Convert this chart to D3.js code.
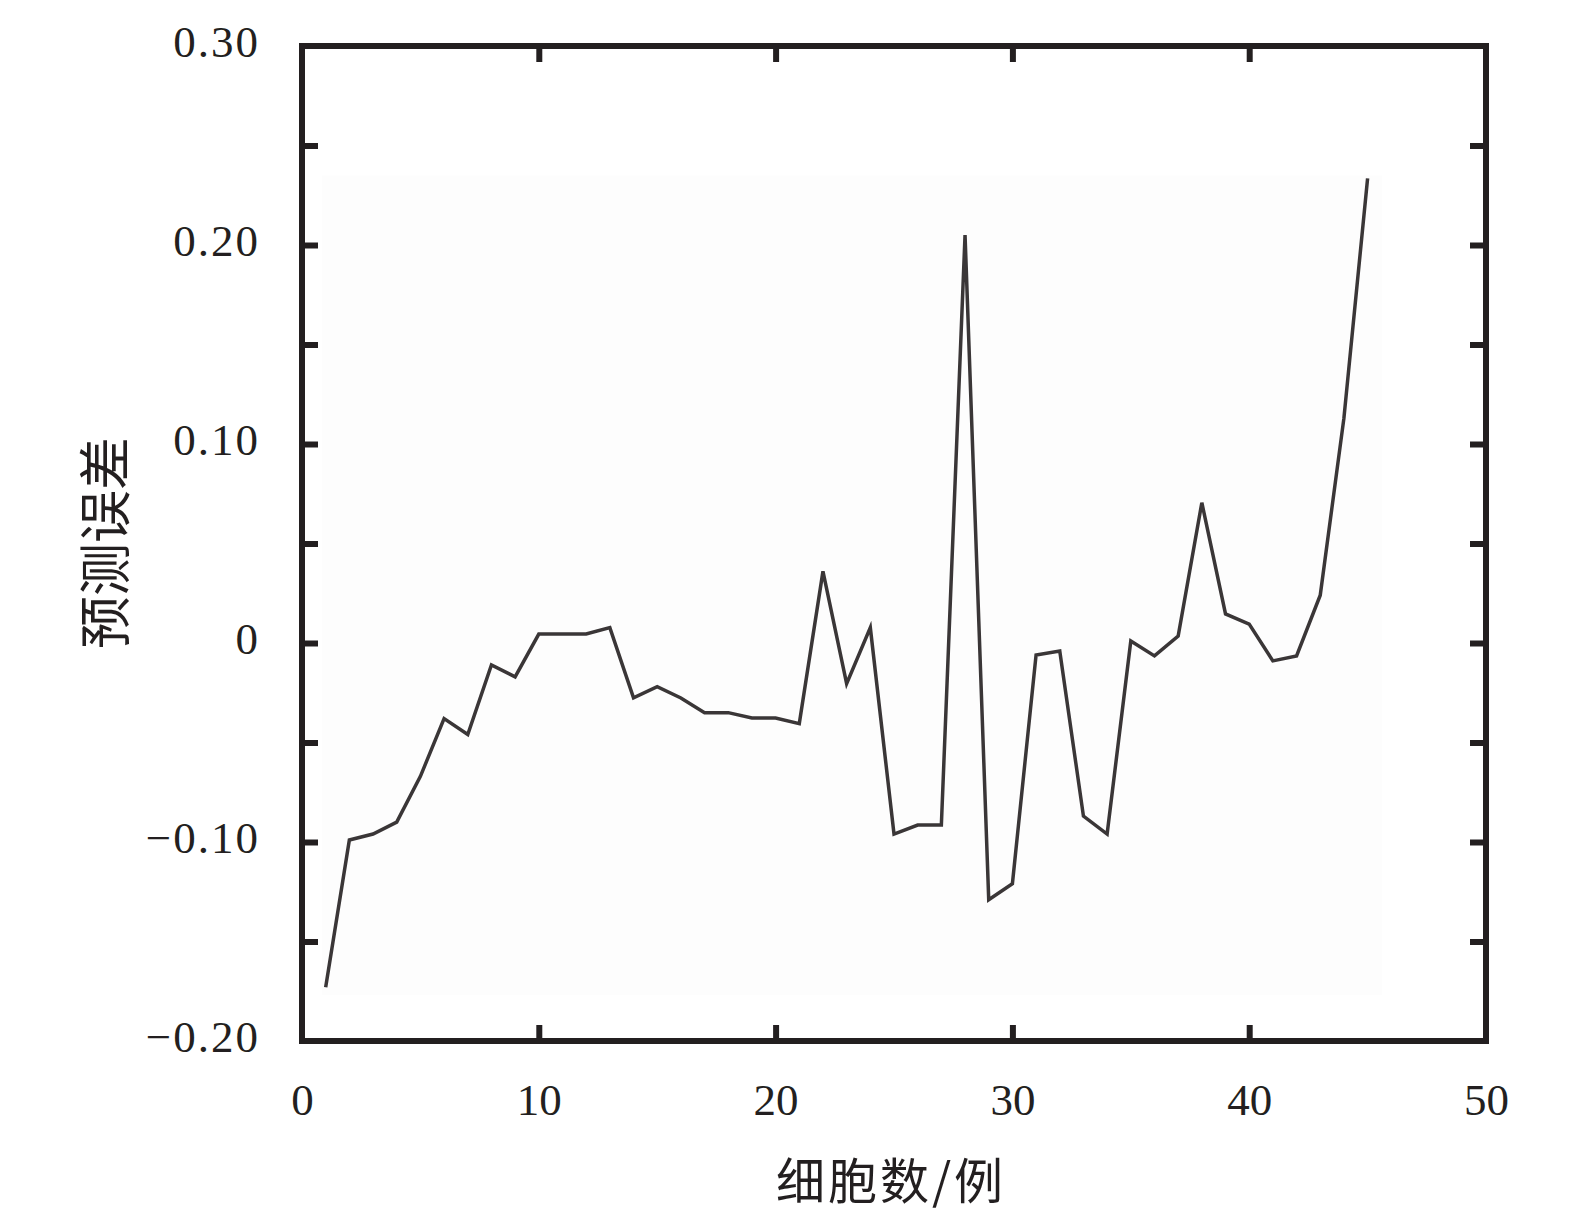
<!DOCTYPE html>
<html>
<head>
<meta charset="utf-8">
<script src="https://cdn.jsdelivr.net/npm/d3@7"></script>
<style>
  html, body { margin: 0; padding: 0; background: #ffffff; }
  svg { display: block; }
</style>
</head>
<body>
<svg id="chart" width="1589" height="1226"></svg>
<script>
// ---- data ----
const cells = [1,2,3,4,5,6,7,8,9,10,11,12,13,14,15,16,17,18,19,20,21,22,23,24,25,26,27,28,29,30,31,32,33,34,35,36,37,38,39,40,41,42,43,44,45];
const errors = [-0.173,-0.099,-0.096,-0.090,-0.067,-0.038,-0.046,-0.011,-0.017,0.0045,
                0.0045,0.0045,0.0077,-0.0276,-0.022,-0.0276,-0.035,-0.035,-0.0377,-0.0377,
                -0.0405,0.036,-0.0204,0.0077,-0.096,-0.0915,-0.0915,0.205,-0.129,-0.121,
                -0.006,-0.004,-0.087,-0.096,0.001,-0.0065,0.0035,0.0705,0.0146,0.0095,
                -0.009,-0.0065,0.024,0.113,0.2335];
const xTickValues = [0,10,20,30,40,50];
const xTickLabels = ["0","10","20","30","40","50"];
const yTickValues = [-0.20,-0.10,0,0.10,0.20,0.30];
const yTickLabels = ["−0.20","−0.10","0","0.10","0.20","0.30"];
const yMinorTicks = [-0.15,-0.10,-0.05,0,0.05,0.10,0.15,0.20,0.25];
const xInnerTicks = [10,20,30,40];
const xTitle = "细胞数/例";
const yTitle = "预测误差";

// ---- layout ----
const L = 302, R = 1486, T = 46, B = 1041;
const frameColor = "#231f20";
const lineColor = "#3a3637";
const tickLen = 16;
const numFont = "'Liberation Serif', 'Times New Roman', serif";
const cjkFont = "'Noto Sans CJK SC', sans-serif";

const svg = d3.select("#chart");
const x = d3.scaleLinear().domain([0, 50]).range([L, R]);
const y = d3.scaleLinear().domain([-0.2, 0.3]).range([B, T]);

// faint plot background panel
svg.append("rect")
  .attr("x", x(0.85)).attr("y", y(0.235))
  .attr("width", x(45.6) - x(0.85)).attr("height", y(-0.177) - y(0.235))
  .attr("fill", "#fdfdfd");

// inner ticks via axes
function styleTicks(g) {
  g.select(".domain").remove();
  g.selectAll(".tick line").attr("stroke", frameColor).attr("stroke-width", 6);
  g.selectAll(".tick text").remove();
}
svg.append("g").attr("transform", `translate(0,${B})`)
  .call(d3.axisBottom(x).tickValues(xInnerTicks).tickSize(-tickLen)).call(styleTicks);
svg.append("g").attr("transform", `translate(0,${T})`)
  .call(d3.axisTop(x).tickValues(xInnerTicks).tickSize(-tickLen)).call(styleTicks);
svg.append("g").attr("transform", `translate(${L},0)`)
  .call(d3.axisLeft(y).tickValues(yMinorTicks).tickSize(-tickLen)).call(styleTicks);
svg.append("g").attr("transform", `translate(${R},0)`)
  .call(d3.axisRight(y).tickValues(yMinorTicks).tickSize(-tickLen)).call(styleTicks);

// tick labels
const xLab = svg.append("g").attr("transform", `translate(0,${B})`)
  .call(d3.axisBottom(x).tickValues(xTickValues).tickSize(0)
        .tickFormat((d, i) => xTickLabels[i]));
xLab.select(".domain").remove();
xLab.selectAll(".tick text")
  .attr("y", 74).attr("dy", 0)
  .attr("font-family", numFont).attr("font-size", 45).attr("fill", frameColor);

const yLab = svg.append("g").attr("transform", `translate(${L},0)`)
  .call(d3.axisLeft(y).tickValues(yTickValues).tickSize(0)
        .tickFormat((d, i) => yTickLabels[i]));
yLab.select(".domain").remove();
yLab.selectAll(".tick text")
  .attr("x", -42).attr("dy", 10)
  .attr("font-family", numFont).attr("font-size", 45)
  .attr("letter-spacing", 2).attr("fill", frameColor);

// data line
const line = d3.line().x((d, i) => x(cells[i])).y(d => y(d));
svg.append("path")
  .datum(errors)
  .attr("d", line)
  .attr("fill", "none")
  .attr("stroke", lineColor)
  .attr("stroke-width", 3.5)
  .attr("stroke-linejoin", "miter");

// frame
svg.append("rect")
  .attr("x", L).attr("y", T).attr("width", R - L).attr("height", B - T)
  .attr("fill", "none").attr("stroke", frameColor).attr("stroke-width", 6);

// axis titles
svg.append("text")
  .attr("x", 891).attr("y", 1199)
  .attr("text-anchor", "middle")
  .attr("font-family", cjkFont).attr("font-size", 49)
  .attr("letter-spacing", 3)
  .attr("fill", frameColor)
  .text(xTitle);

svg.append("text")
  .attr("transform", "translate(125,543) rotate(-90)")
  .attr("text-anchor", "middle")
  .attr("font-family", cjkFont).attr("font-size", 53)
  .attr("fill", frameColor)
  .text(yTitle);
</script>
</body>
</html>
